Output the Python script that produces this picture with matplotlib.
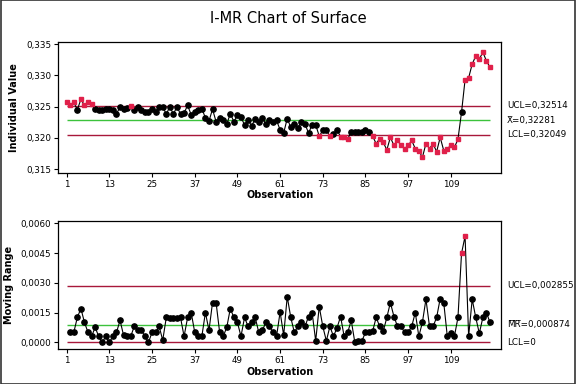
import numpy as np
import matplotlib
matplotlib.use("Agg")
import matplotlib.pyplot as plt
from matplotlib.ticker import FuncFormatter
from matplotlib.patches import Rectangle

# individual values, observations 1..120
individual = [
    0.3257, 0.3252, 0.3257, 0.3245, 0.3262, 0.3252, 0.3257, 0.3254, 0.3247, 0.3244,
    0.3244, 0.3247, 0.3247, 0.3244, 0.3239, 0.3249, 0.3246, 0.3248, 0.3251, 0.3244,
    0.3249, 0.3244, 0.3242, 0.3242, 0.3247, 0.3242, 0.3250, 0.3250, 0.3238, 0.3250,
    0.3238, 0.3250, 0.3238, 0.3240, 0.3252, 0.3237, 0.3242, 0.3244, 0.3247, 0.3232,
    0.3227, 0.3246, 0.3226, 0.3232, 0.3229, 0.3222, 0.3239, 0.3226, 0.3236, 0.3233,
    0.3221, 0.3229, 0.3219, 0.3231, 0.3226, 0.3232, 0.3222, 0.3229, 0.3226, 0.3228,
    0.3213, 0.3208, 0.3231, 0.3217, 0.3223, 0.3216, 0.3226, 0.3222, 0.3208, 0.3221,
    0.3221, 0.3203, 0.3212, 0.3212, 0.3203, 0.3207, 0.3213, 0.3202, 0.3202, 0.3199,
    0.3209, 0.3209, 0.3209, 0.3209, 0.3213, 0.3209, 0.3203, 0.3191, 0.3199, 0.3193,
    0.3181, 0.3201, 0.3188, 0.3196, 0.3188, 0.3183, 0.3188, 0.3196, 0.3183, 0.3180,
    0.3169, 0.3191, 0.3183, 0.3191, 0.3178, 0.3201, 0.3180, 0.3183, 0.3188, 0.3185,
    0.3198, 0.3241, 0.3293, 0.3296, 0.3318, 0.3331, 0.3326, 0.3337, 0.3323, 0.3313,
]

# moving ranges, observations 2..120
moving_range = [
    0.0005, 0.0005, 0.00126, 0.0017, 0.0010, 0.0005, 0.0003, 0.00075, 0.0003,
    0.0, 0.0003, 0.0, 0.0003, 0.0005, 0.0011, 0.00035, 0.0003, 0.0003, 0.0008,
    0.0006, 0.0006, 0.0003, 0.0, 0.0005, 0.0005, 0.0008, 0.0001, 0.00125, 0.0012,
    0.0012, 0.0012, 0.00125, 0.0003, 0.00125, 0.0015, 0.0005, 0.0003, 0.0003, 0.0015,
    0.0006, 0.0020, 0.0020, 0.0005, 0.0003, 0.00075, 0.0017, 0.00125, 0.0010, 0.0003,
    0.00125, 0.0008, 0.0010, 0.00125, 0.0005, 0.0006, 0.0010, 0.0008, 0.0005, 0.0003,
    0.00153, 0.00035, 0.0023, 0.00125, 0.0005, 0.0008, 0.0010, 0.0008, 0.0013, 0.0015,
    0.00007, 0.0018, 0.0008, 0.00007, 0.0008, 0.0003, 0.00073, 0.0013, 0.0003, 0.0005,
    0.0011, 0.0, 0.00007, 0.00007, 0.0005, 0.0005, 0.00055, 0.00125, 0.0008, 0.00055,
    0.00125, 0.0020, 0.0013, 0.0008, 0.0008, 0.0005, 0.0005, 0.0008, 0.0015, 0.0003,
    0.0010, 0.00217, 0.0008, 0.0008, 0.00125, 0.0022, 0.0020, 0.0003, 0.00045, 0.0003,
    0.00125, 0.00448, 0.00535, 0.0003, 0.00217, 0.00125, 0.00045, 0.00125, 0.0015, 0.0010,
]

# flagged observations (test failures, shown as red squares)
flag_i = [1, 2, 3, 5, 6, 7, 8, 19, 72, 75, 78, 79, 80] + list(range(87, 112)) + list(range(113, 121))
flag_mr = [112, 113]

i_ucl, i_cl, i_lcl = 0.32514, 0.32281, 0.32049
mr_ucl, mr_cl, mr_lcl = 0.002855, 0.000874, 0.0
xticks = [1, 13, 25, 37, 49, 61, 73, 85, 97, 109]

RED = '#e0204a'
LIM = '#a8183a'
GRN = '#3cc23c'
FS = 6.3

fig = plt.figure(figsize=(5.76, 3.84), dpi=100)
fig.patches.append(Rectangle((0.001, 0.001), 0.998, 0.998, transform=fig.transFigure,
                             fill=False, edgecolor='#333333', linewidth=1.2))
fig.text(0.5, 0.953, 'I-MR Chart of Surface', ha='center', va='center', fontsize=10.5)

def comma(fmt):
    return FuncFormatter(lambda v, p: (fmt % v).replace('.', ','))

def draw(ax, obs, vals, flags, ucl, cl, lcl, labels, ylab, ylim, yticks, yfmt):
    obs = np.array(obs)
    vals = np.array(vals)
    ax.hlines([ucl, lcl], 1, 120, color=LIM, linewidth=1.0, zorder=1)
    ax.hlines(cl, 1, 120, color=GRN, linewidth=1.0, zorder=1)
    ax.plot(obs, vals, color='black', linewidth=0.8, zorder=2)
    red = np.isin(obs, flags)
    ax.plot(obs[~red], vals[~red], 'o', color='black', markersize=3.8, zorder=3)
    ax.plot(obs[red], vals[red], 's', color=RED, markersize=3.5, zorder=3)
    ax.set_xlim(-1.36, 123.1)
    ax.set_ylim(*ylim)
    ax.set_xticks(xticks)
    ax.set_yticks(yticks)
    ax.yaxis.set_major_formatter(comma(yfmt))
    ax.tick_params(labelsize=FS, length=3, width=0.8, pad=2)
    for s in ax.spines.values():
        s.set_linewidth(0.9)
    ax.set_xlabel('Observation', fontsize=FS + 0.7, fontweight='bold', labelpad=1)
    ax.set_ylabel(ylab, fontsize=FS + 0.7, fontweight='bold', labelpad=5)
    tr = ax.get_yaxis_transform()
    for y, t in zip([ucl, cl, lcl], labels):
        ax.text(1.013, y, t, transform=tr, ha='left', va='center', fontsize=FS)

ax1 = fig.add_axes([0.1012, 0.5503, 0.7686, 0.3411])
draw(ax1, range(1, 121), individual, flag_i, i_ucl, i_cl, i_lcl,
     ['UCL=0,32514', 'X\u0304=0,32281', 'LCL=0,32049'],
     'Individual Value', (0.31446, 0.33537),
     [0.315, 0.320, 0.325, 0.330, 0.335], '%.3f')

ax2 = fig.add_axes([0.1012, 0.0904, 0.7686, 0.3349])
draw(ax2, range(2, 121), moving_range, flag_mr, mr_ucl, mr_cl, mr_lcl,
     ['UCL=0,002855', 'M\u0305R\u0305=0,000874', 'LCL=0'],
     'Moving Range', (-0.000353, 0.006131),
     [0.0, 0.0015, 0.0030, 0.0045, 0.0060], '%.4f')

fig.savefig('out.png', dpi=100)
